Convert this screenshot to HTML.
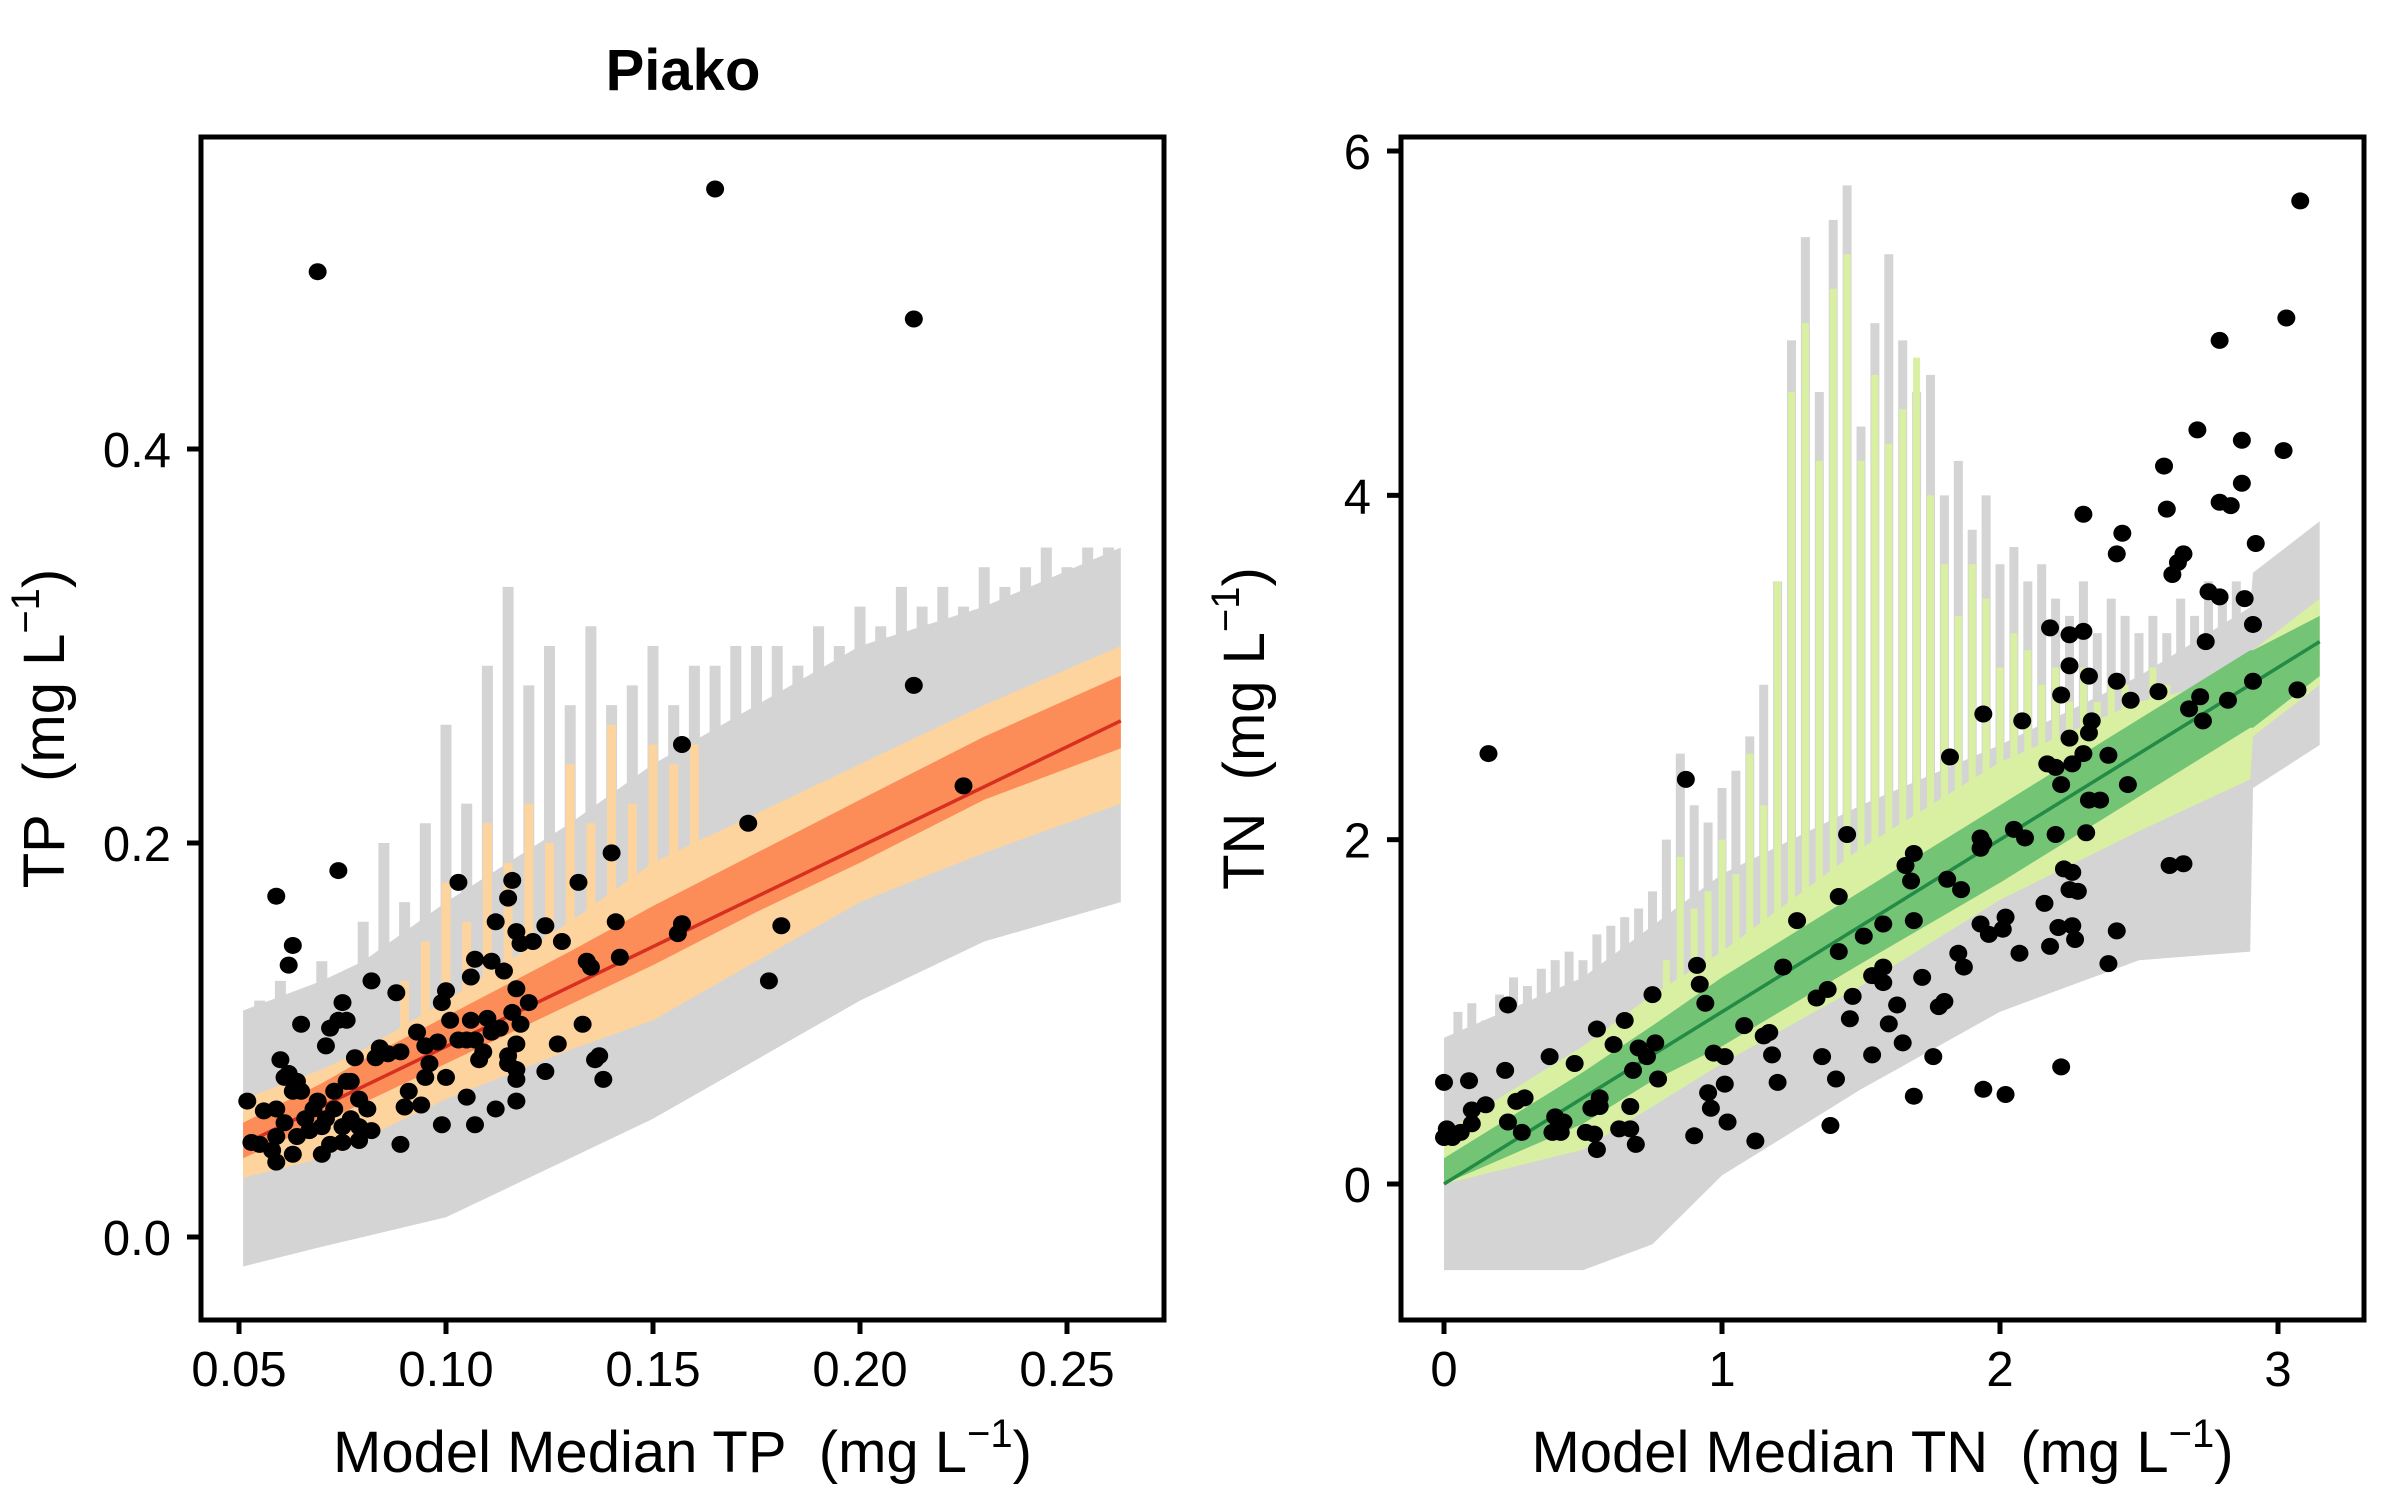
<!DOCTYPE html>
<html><head><meta charset="utf-8"><style>
html,body{margin:0;padding:0;background:#fff}
svg{display:block;font-family:"Liberation Sans",Arial,sans-serif}
</style></head><body>
<svg id="chart" width="2400" height="1500" viewBox="0 0 2400 1500" xmlns="http://www.w3.org/2000/svg">
<rect width="2400" height="1500" fill="#fff"/>
<g id="panelA"></g>
<g id="panelB"></g>
<text x="683" y="90" text-anchor="middle" font-weight="bold" font-size="58">Piako</text>
</svg>
<script>
// ---------- TP panel data ----------
const tpXTicks = [0.05, 0.10, 0.15, 0.20, 0.25];
const tpXTickLabels = ["0.05", "0.10", "0.15", "0.20", "0.25"];
const tpYTicks = [0.0, 0.2, 0.4];
const tpYTickLabels = ["0.0", "0.2", "0.4"];
const tpBandX = [0.051, 0.07, 0.08, 0.10, 0.13, 0.15, 0.175, 0.20, 0.23, 0.263];
const tpGrayHi = [0.115, 0.13, 0.14, 0.17, 0.21, 0.24, 0.27, 0.30, 0.32, 0.35];
const tpGrayLo = [-0.015, -0.005, 0.0, 0.01, 0.04, 0.06, 0.09, 0.12, 0.15, 0.17];
const tpLightHi = [0.07, 0.085, 0.095, 0.12, 0.16, 0.19, 0.215, 0.24, 0.27, 0.30];
const tpLightLo = [0.03, 0.04, 0.05, 0.07, 0.095, 0.11, 0.14, 0.17, 0.195, 0.22];
const tpDarkHi = [0.058, 0.078, 0.09, 0.112, 0.145, 0.168, 0.195, 0.222, 0.254, 0.285];
const tpDarkLo = [0.04, 0.058, 0.068, 0.088, 0.118, 0.138, 0.165, 0.19, 0.222, 0.248];
const tpLineX = [0.051, 0.263];
const tpLineY = [0.047, 0.262];
const tpGraySpikeX = [0.055,0.06,0.065,0.07,0.075,0.08,0.085,0.09,0.095,0.10,0.105,0.11,0.115,0.12,0.125,0.13,0.135,0.14,0.145,0.15,0.155,0.16,0.165,0.17,0.175,0.18,0.185,0.19,0.195,0.20,0.205,0.21,0.215,0.22,0.225,0.23,0.235,0.24,0.245,0.25,0.255,0.26];
const tpGraySpikeY = [0.12,0.13,0.12,0.14,0.13,0.16,0.20,0.17,0.21,0.26,0.22,0.29,0.33,0.28,0.30,0.27,0.31,0.27,0.28,0.30,0.27,0.29,0.29,0.30,0.30,0.30,0.29,0.31,0.30,0.32,0.31,0.33,0.32,0.33,0.32,0.34,0.33,0.34,0.35,0.34,0.35,0.35];
const tpLightSpikeX = [0.09,0.095,0.10,0.105,0.11,0.115,0.12,0.125,0.13,0.135,0.14,0.145,0.15,0.155,0.16];
const tpLightSpikeY = [0.13,0.15,0.18,0.16,0.21,0.19,0.22,0.20,0.24,0.21,0.26,0.22,0.25,0.24,0.25];
const tpPtX = [0.069,0.165,0.213,0.213,0.225,0.157,0.173,0.181,0.178,0.156,0.157,0.140,0.132,0.141,0.142,0.134,0.135,0.133,0.136,0.137,0.138,0.127,0.124,0.128,0.124,0.120,0.121,0.116,0.115,0.112,0.117,0.118,0.103,0.074,0.059,0.063,0.062,0.082,0.088,0.075,0.106,0.100,0.099,0.107,0.111,0.114,0.117,0.116,0.118,0.117,0.117,0.115,0.115,0.117,0.117,0.112,0.107,0.099,0.105,0.100,0.089,0.090,0.094,0.091,0.095,0.096,0.095,0.093,0.098,0.103,0.105,0.107,0.109,0.108,0.111,0.106,0.101,0.110,0.113,0.084,0.086,0.089,0.083,0.072,0.071,0.074,0.076,0.078,0.077,0.079,0.081,0.065,0.060,0.061,0.062,0.064,0.063,0.065,0.052,0.056,0.059,0.053,0.055,0.058,0.059,0.063,0.070,0.072,0.075,0.079,0.082,0.066,0.068,0.070,0.071,0.073,0.075,0.077,0.079,0.067,0.069,0.073,0.076,0.061,0.059,0.064];
const tpPtY = [0.490,0.532,0.466,0.280,0.229,0.250,0.210,0.158,0.130,0.154,0.159,0.195,0.180,0.160,0.142,0.140,0.137,0.108,0.090,0.092,0.080,0.098,0.084,0.150,0.158,0.119,0.150,0.181,0.172,0.160,0.155,0.149,0.180,0.186,0.173,0.148,0.138,0.130,0.124,0.119,0.132,0.125,0.119,0.141,0.140,0.135,0.126,0.114,0.108,0.098,0.085,0.092,0.088,0.080,0.069,0.065,0.057,0.057,0.071,0.081,0.047,0.066,0.067,0.074,0.081,0.088,0.097,0.104,0.099,0.100,0.100,0.100,0.094,0.090,0.104,0.110,0.110,0.111,0.106,0.096,0.093,0.094,0.091,0.106,0.097,0.110,0.110,0.091,0.079,0.070,0.065,0.108,0.090,0.081,0.083,0.079,0.074,0.074,0.069,0.064,0.065,0.048,0.047,0.044,0.038,0.042,0.042,0.047,0.048,0.049,0.054,0.060,0.065,0.056,0.060,0.065,0.056,0.060,0.056,0.054,0.069,0.074,0.079,0.058,0.051,0.051];

// ---------- TN panel data ----------
const tnXTicks = [0, 1, 2, 3];
const tnXTickLabels = ["0", "1", "2", "3"];
const tnYTicks = [0, 2, 4, 6];
const tnYTickLabels = ["0", "2", "4", "6"];
const tnBandX = [0, 0.5, 0.75, 1.0, 1.5, 2.0, 2.5, 2.9, 2.91, 3.15];
const tnGrayHi = [0.85, 1.2, 1.5, 1.8, 2.2, 2.55, 2.95, 3.35, 3.55, 3.85];
const tnGrayLo = [-0.5, -0.5, -0.35, 0.05, 0.55, 1.0, 1.3, 1.35, 2.3, 2.55];
const tnLightHi = [0.3, 0.8, 1.1, 1.35, 1.95, 2.45, 2.8, 2.95, 3.1, 3.4];
const tnLightLo = [0.0, 0.2, 0.45, 0.7, 1.15, 1.65, 2.05, 2.35, 2.6, 2.9];
const tnDarkHi = [0.15, 0.65, 0.92, 1.2, 1.7, 2.2, 2.7, 3.1, 3.1, 3.3];
const tnDarkLo = [0.0, 0.35, 0.6, 0.8, 1.28, 1.75, 2.25, 2.65, 2.65, 2.95];
const tnLineX = [0, 3.15];
const tnLineY = [0.0, 3.15];
const tnGraySpikeX = [0.05,0.10,0.15,0.20,0.25,0.30,0.35,0.40,0.45,0.50,0.55,0.60,0.65,0.70,0.75,0.80,0.85,0.90,0.95,1.00,1.05,1.10,1.15,1.20,1.25,1.30,1.35,1.40,1.45,1.50,1.55,1.60,1.65,1.70,1.75,1.80,1.85,1.90,1.95,2.00,2.05,2.10,2.15,2.20,2.25,2.30,2.35,2.40,2.45,2.50,2.55,2.60,2.65,2.70,2.75,2.80,2.85];
const tnGraySpikeY = [1.0,1.05,0.95,1.1,1.2,1.15,1.25,1.3,1.35,1.3,1.45,1.5,1.55,1.6,1.7,2.0,2.5,2.2,2.1,2.3,2.4,2.6,2.9,3.5,4.9,5.5,4.6,5.6,5.8,4.4,5.0,5.4,4.9,4.6,4.7,4.0,4.2,3.8,4.0,3.6,3.7,3.5,3.6,3.4,3.3,3.5,3.2,3.4,3.3,3.2,3.3,3.2,3.4,3.3,3.5,3.4,3.5];
const tnLightSpikeX = [0.80,0.85,0.90,0.95,1.00,1.05,1.10,1.15,1.20,1.25,1.30,1.35,1.40,1.45,1.50,1.55,1.60,1.65,1.70,1.75,1.80,1.85,1.90,1.95,2.00,2.05,2.10,2.15,2.20,2.25,2.30,2.35,2.40,2.45,2.50,2.55,2.60];
const tnLightSpikeY = [1.3,1.9,1.6,1.7,2.0,1.8,2.5,2.2,3.5,4.6,5.0,4.2,5.2,5.4,4.2,4.7,4.3,4.5,4.8,4.0,3.6,3.3,3.6,3.4,3.0,3.2,3.1,2.9,3.0,2.8,3.0,2.8,2.9,2.9,2.8,3.0,2.9];
const tnPtX = [3.08,3.03,3.02,2.79,2.71,2.87,2.87,2.79,2.83,2.59,2.60,2.30,2.44,2.42,2.66,2.64,2.62,2.92,2.75,2.79,2.88,2.91,2.74,2.18,2.25,2.30,2.25,2.32,2.42,2.47,2.57,2.72,2.68,2.82,2.73,2.91,3.07,1.94,2.08,2.22,2.33,2.32,2.25,2.30,2.39,2.17,2.20,2.26,2.22,2.32,2.36,2.46,1.82,2.20,2.31,2.05,2.09,1.93,1.94,1.93,1.45,2.23,2.26,2.25,2.28,2.16,2.21,2.26,2.27,2.18,2.07,2.02,2.01,1.96,1.93,2.42,2.39,2.61,2.66,2.22,1.94,2.02,1.86,1.81,1.69,1.66,1.68,1.69,1.58,1.42,1.51,1.27,1.42,1.58,1.54,1.58,1.47,1.46,1.38,1.34,1.22,1.72,1.85,1.87,1.63,1.80,1.78,1.60,1.65,1.76,1.54,1.69,1.36,1.41,1.39,1.12,1.15,1.17,1.08,1.18,1.20,0.91,0.92,0.94,0.87,0.97,1.01,1.01,0.95,0.96,1.02,0.90,0.75,0.76,0.77,0.73,0.70,0.68,0.65,0.61,0.55,0.56,0.56,0.53,0.67,0.63,0.67,0.69,0.51,0.54,0.55,0.47,0.38,0.40,0.43,0.39,0.42,0.22,0.23,0.23,0.26,0.29,0.28,0.16,0.15,0.10,0.10,0.09,0.0,0.01,0.0,0.03,0.06];
const tnPtY = [5.71,5.03,4.26,4.90,4.38,4.32,4.07,3.96,3.94,4.17,3.92,3.89,3.78,3.66,3.66,3.61,3.54,3.72,3.44,3.41,3.40,3.25,3.15,3.23,3.19,3.21,3.01,2.95,2.92,2.81,2.86,2.83,2.76,2.81,2.69,2.92,2.87,2.73,2.69,2.84,2.69,2.62,2.59,2.50,2.49,2.44,2.42,2.44,2.32,2.23,2.23,2.32,2.48,2.03,2.04,2.06,2.01,2.01,1.98,1.95,2.03,1.83,1.81,1.71,1.70,1.63,1.49,1.50,1.42,1.38,1.34,1.55,1.48,1.45,1.51,1.47,1.28,1.85,1.86,0.68,0.55,0.52,1.71,1.77,1.92,1.85,1.76,1.53,1.51,1.67,1.44,1.53,1.35,1.26,1.21,1.17,1.09,0.96,1.13,1.08,1.26,1.20,1.34,1.26,1.04,1.06,1.03,0.93,0.82,0.74,0.75,0.51,0.74,0.61,0.34,0.25,0.86,0.88,0.92,0.75,0.59,1.27,1.16,1.05,2.35,0.76,0.74,0.58,0.53,0.44,0.36,0.28,1.10,0.82,0.61,0.74,0.79,0.66,0.95,0.81,0.90,0.50,0.45,0.44,0.45,0.32,0.32,0.23,0.30,0.29,0.20,0.70,0.74,0.39,0.36,0.30,0.30,0.66,1.04,0.36,0.48,0.50,0.30,2.50,0.46,0.43,0.35,0.60,0.59,0.32,0.27,0.27,0.30];

const NS = "http://www.w3.org/2000/svg";
function mk(parent, tag, attrs) {
  const e = document.createElementNS(NS, tag);
  for (const k in attrs) e.setAttribute(k, attrs[k]);
  parent.appendChild(e);
  return e;
}
function lin(d0, d1, p0, p1) { return v => p0 + (v - d0) / (d1 - d0) * (p1 - p0); }

function drawPanel(g, cfg) {
  const sx = cfg.sx, sy = cfg.sy, B = cfg.box;
  const clipId = cfg.id + "-clip";
  const defs = mk(g, "defs", {});
  const cp = mk(defs, "clipPath", {id: clipId});
  mk(cp, "rect", {x: B.l, y: B.t, width: B.r - B.l, height: B.b - B.t});
  const plot = mk(g, "g", {"clip-path": "url(#" + clipId + ")"});
  
  

  function band(hi, lo, color, name) {
    let d = "";
    cfg.bx.forEach((x, i) => { d += (i ? "L" : "M") + sx(x).toFixed(1) + "," + sy(hi[i]).toFixed(1); });
    for (let i = cfg.bx.length - 1; i >= 0; i--) d += "L" + sx(cfg.bx[i]).toFixed(1) + "," + sy(lo[i]).toFixed(1);
    const p = mk(plot, "path", {d: d + "Z", fill: color});
    
    
  }
  function interp(arr, x) {
    const bx = cfg.bx;
    for (let i = 0; i < bx.length - 1; i++) if (x >= bx[i] && x <= bx[i + 1]) {
      const t = (x - bx[i]) / (bx[i + 1] - bx[i]); return arr[i] + t * (arr[i + 1] - arr[i]);
    }
    return arr[arr.length - 1];
  }
  function spikes(xs, ys, base, color, w, name) {
    xs.forEach((x, i) => {
      const s = mk(plot, "line", {x1: sx(x), x2: sx(x), y1: sy(interp(base, x)) + 5, y2: sy(ys[i]), stroke: color, "stroke-width": w});
      
      
    });
  }
  band(cfg.grayHi, cfg.grayLo, "#d4d4d4", "prediction-interval-band");
  spikes(cfg.gsx, cfg.gsy, cfg.grayHi, "#d4d4d4", cfg.sw, "prediction-interval-spike");
  band(cfg.lightHi, cfg.lightLo, cfg.cLight, "outer-credible-band");
  spikes(cfg.lsx, cfg.lsy, cfg.lightHi, cfg.cLight, cfg.sw - 2, "outer-credible-spike");
  band(cfg.darkHi, cfg.darkLo, cfg.cDark, "inner-credible-band");
  const ln = mk(plot, "line", {x1: sx(cfg.lx[0]), y1: sy(cfg.ly[0]), x2: sx(cfg.lx[1]), y2: sy(cfg.ly[1]), stroke: cfg.cLine, "stroke-width": 3.5});
  
  
  cfg.px.forEach((x, i) => {
    const c = mk(plot, "ellipse", {cx: sx(x), cy: sy(cfg.py[i]), rx: 9, ry: 8.5, fill: "#000"});
    
    
  });
  const fr = mk(g, "rect", {x: B.l, y: B.t, width: B.r - B.l, height: B.b - B.t, fill: "none", stroke: "#000", "stroke-width": 5});
  
  
  cfg.xt.forEach((v, i) => {
    const t = mk(g, "line", {x1: sx(v), x2: sx(v), y1: B.b, y2: B.b + 14, stroke: "#000", "stroke-width": 5});
    
    
    const l = mk(g, "text", {x: sx(v), y: B.b + 66, "text-anchor": "middle", "font-size": 49});
    l.textContent = cfg.xtl[i];
    
    
  });
  cfg.yt.forEach((v, i) => {
    const t = mk(g, "line", {x1: B.l - 14, x2: B.l, y1: sy(v), y2: sy(v), stroke: "#000", "stroke-width": 5});
    
    
    const l = mk(g, "text", {x: B.l - 30, y: sy(v) + 18, "text-anchor": "end", "font-size": 49});
    l.textContent = cfg.ytl[i];
    
    
  });
  const xt = mk(g, "text", {x: (B.l + B.r) / 2, y: 1472, "text-anchor": "middle", "font-size": 58});
  xt.innerHTML = cfg.xTitle + '\u00a0\u00a0(mg L<tspan dy="-25" font-size="40">\u22121</tspan><tspan dy="25">)</tspan>';
  
  
  const yc = (B.t + B.b) / 2;
  const yt = mk(g, "text", {x: cfg.yTitleX, y: yc, "text-anchor": "middle", "font-size": 58, transform: "rotate(-90 " + cfg.yTitleX + " " + yc + ")"});
  yt.innerHTML = cfg.yTitle + '\u00a0\u00a0(mg L<tspan dy="-25" font-size="40">\u22121</tspan><tspan dy="25">)</tspan>';
  
  
}

const boxA = {l: 201, r: 1164, t: 137, b: 1320};
drawPanel(document.getElementById("panelA"), {
  id: "tp", box: boxA, sw: 11,
  sx: lin(0.05, 0.10, 239, 446), sy: lin(0.0, 0.4, 1237, 449),
  bx: tpBandX, grayHi: tpGrayHi, grayLo: tpGrayLo, lightHi: tpLightHi, lightLo: tpLightLo, darkHi: tpDarkHi, darkLo: tpDarkLo,
  gsx: tpGraySpikeX, gsy: tpGraySpikeY, lsx: tpLightSpikeX, lsy: tpLightSpikeY,
  lx: tpLineX, ly: tpLineY, px: tpPtX, py: tpPtY,
  cLight: "#fdd49e", cDark: "#fc8d59", cLine: "#d7301f",
  xt: tpXTicks, xtl: tpXTickLabels, yt: tpYTicks, ytl: tpYTickLabels,
  xTitle: "Model Median TP", yTitle: "TP", yTitleX: 64
});
const boxB = {l: 1401, r: 2364, t: 137, b: 1320};
drawPanel(document.getElementById("panelB"), {
  id: "tn", box: boxB, sw: 9,
  sx: lin(0, 1, 1444, 1722), sy: lin(0, 6, 1184, 151),
  bx: tnBandX, grayHi: tnGrayHi, grayLo: tnGrayLo, lightHi: tnLightHi, lightLo: tnLightLo, darkHi: tnDarkHi, darkLo: tnDarkLo,
  gsx: tnGraySpikeX, gsy: tnGraySpikeY, lsx: tnLightSpikeX, lsy: tnLightSpikeY,
  lx: tnLineX, ly: tnLineY, px: tnPtX, py: tnPtY,
  cLight: "#d9f0a3", cDark: "#74c476", cLine: "#238b45",
  xt: tnXTicks, xtl: tnXTickLabels, yt: tnYTicks, ytl: tnYTickLabels,
  xTitle: "Model Median TN", yTitle: "TN", yTitleX: 1264
});
</script>
</body></html>
